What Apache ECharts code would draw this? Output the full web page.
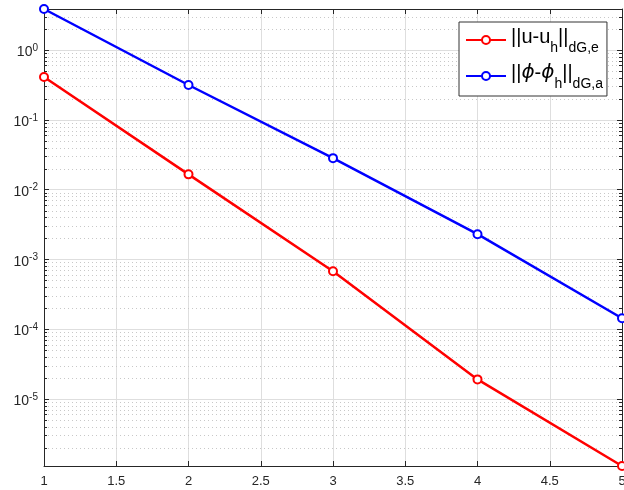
<!DOCTYPE html>
<html>
<head>
<meta charset="utf-8">
<script src="https://cdn.jsdelivr.net/npm/echarts@6/dist/echarts.min.js"></script>
<style>
html,body{margin:0;padding:0;background:#fff;}
#chart{width:624px;height:490px;}
</style>
</head>
<body>
<div id="chart"></div>
<script>
var xValues = [1, 2, 3, 4, 5];
var errU = [0.41, 0.0165, 6.75e-4, 1.9e-5, 1.09e-6];
var errPhi = [3.87, 0.315, 0.0282, 0.00229, 1.43e-4];
var seriesNames = ['u', 'phi'];
var xMin = 1, xMax = 5, xStep = 0.5;
var yMin = 1.09e-6, yMax = 3.87;
var minorMultipliers = [2, 3, 4, 5, 6, 7, 8, 9];
var decades = [-6, -5, -4, -3, -2, -1, 0];

var minorData = [];
decades.forEach(function (k) {
  minorMultipliers.forEach(function (m) {
    var v = m * Math.pow(10, k);
    if (v > yMin && v < yMax) minorData.push([xMin, v]);
  });
});

function pairs(ys) { return xValues.map(function (x, i) { return [x, ys[i]]; }); }

var axisColor = '#262626';
var gridColor = '#dedede';

var chart = echarts.init(document.getElementById('chart'));
chart.setOption({
  backgroundColor: '#fff',
  animation: false,
  grid: { left: 44, right: 2, top: 9, bottom: 24, outerBoundsMode: 'none', containLabel: false },
  legend: {
    data: seriesNames,
    orient: 'vertical',
    left: 459, top: 22,
    padding: [5, 4, 5, 6],
    itemGap: 8,
    itemWidth: 40, itemHeight: 10,
    backgroundColor: '#fff',
    borderColor: '#333', borderWidth: 1, borderRadius: 0,
    formatter: function (name) {
      if (name === 'u') return '{n|||u-u}{s|h}{n|||}{s|dG,e}';
      return '{n|||}{i|\u03d5}{n|-}{i|\u03d5}{s|h}{n|||}{s|dG,a}';
    },
    textStyle: {
      color: '#000',
      rich: {
        n: { fontSize: 20, fontFamily: 'Liberation Sans', color: '#000', padding: [0, 0, 6, 0] },
        i: { fontSize: 20, fontFamily: 'DejaVu Sans', fontStyle: 'italic', color: '#000', padding: [0, 0, 6, 0] },
        s: { fontSize: 14, fontFamily: 'Liberation Sans', color: '#000', padding: [16, 0, 0, 0] }
      }
    }
  },
  xAxis: [{
    type: 'value', min: xMin, max: xMax, interval: xStep,
    axisLine: { show: true, lineStyle: { color: axisColor, width: 1 } },
    axisTick: { show: true, inside: true, length: 5, lineStyle: { color: axisColor } },
    axisLabel: { color: axisColor, fontSize: 13, fontFamily: 'Liberation Sans', margin: 9 },
    splitLine: { show: true, lineStyle: { color: gridColor, width: 1 } }
  }, {
    type: 'value', position: 'top', min: xMin, max: xMax, interval: xStep,
    axisLine: { show: true, lineStyle: { color: axisColor, width: 1 } },
    axisTick: { show: true, inside: true, length: 5, lineStyle: { color: axisColor } },
    axisLabel: { show: false },
    splitLine: { show: false }
  }],
  yAxis: [{
    type: 'log', logBase: 10, min: yMin, max: yMax, splitNumber: 8,
    axisLine: { show: true, lineStyle: { color: axisColor, width: 1 } },
    axisTick: { show: true, inside: true, length: 5, lineStyle: { color: axisColor } },
    axisLabel: {
      showMinLabel: false, showMaxLabel: false, margin: 6,
      formatter: function (v) {
        var e = Math.round(Math.log10(v));
        return '{b|10}{e|' + e + '}';
      },
      rich: {
        b: { fontSize: 14, fontFamily: 'Liberation Sans', color: axisColor, padding: [5, 0, 0, 0] },
        e: { fontSize: 10, fontFamily: 'Liberation Sans', color: axisColor, padding: [0, 0, 4, 0] }
      }
    },
    splitLine: { show: true, lineStyle: { color: gridColor, width: 1 } }
  }, {
    type: 'log', logBase: 10, min: yMin, max: yMax, splitNumber: 8, position: 'right',
    axisLine: { show: true, lineStyle: { color: axisColor, width: 1 } },
    axisTick: { show: true, inside: true, length: 5, lineStyle: { color: axisColor } },
    axisLabel: { show: false },
    splitLine: { show: false }
  }],
  series: [{
    type: 'custom',
    silent: true,
    z: 1,
    xAxisIndex: 0, yAxisIndex: 0,
    data: minorData,
    renderItem: function (params, api) {
      var v = api.value(1);
      var p0 = api.coord([xMin, v]);
      var p1 = api.coord([xMax, v]);
      var y = Math.round(p0[1]) + 0.5;
      return {
        type: 'group',
        children: [{
          type: 'line',
          shape: { x1: p0[0], y1: y, x2: p1[0], y2: y },
          style: { stroke: '#c8c8c8', lineWidth: 1, lineDash: [1, 3] }
        }, {
          type: 'line',
          shape: { x1: p0[0], y1: y, x2: p0[0] + 3, y2: y },
          style: { stroke: axisColor, lineWidth: 1 }
        }, {
          type: 'line',
          shape: { x1: p1[0] - 3, y1: y, x2: p1[0], y2: y },
          style: { stroke: axisColor, lineWidth: 1 }
        }]
      };
    }
  }, {
    name: 'u', type: 'line', data: pairs(errU),
    color: '#ff0000', clip: false, z: 5,
    symbol: 'emptyCircle', symbolSize: 8,
    lineStyle: { color: '#ff0000', width: 2.5 },
    itemStyle: { color: '#ff0000', borderWidth: 2 }
  }, {
    name: 'phi', type: 'line', data: pairs(errPhi),
    color: '#0000ff', clip: false, z: 5,
    symbol: 'emptyCircle', symbolSize: 8,
    lineStyle: { color: '#0000ff', width: 2.5 },
    itemStyle: { color: '#0000ff', borderWidth: 2 }
  }]
});
</script>
</body>
</html>
